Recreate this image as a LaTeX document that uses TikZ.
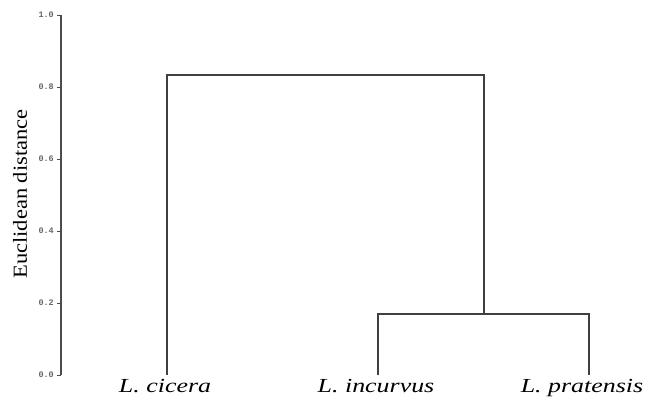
\documentclass[tikz,border=0pt]{standalone}
\usepackage{fontspec}
\setmainfont{Liberation Serif}
\newfontfamily\tickfont{Liberation Mono}
\begin{document}
\begin{tikzpicture}[x=1bp,y=-1bp,
  line/.style={draw=black!75,line width=1.3bp},
  axisline/.style={draw=black!70,line width=2bp},
  ticklab/.style={font=\tickfont\fontsize{8.5}{9}\selectfont\bfseries,text=black!60,anchor=east,inner sep=0pt},
  leaf/.style={font=\fontsize{20}{24}\selectfont\itshape,anchor=base,inner sep=0pt,xscale=1.3}]
\useasboundingbox (0,0) rectangle (646,398);
% axis
\coordinate (a0) at (61,375);
\coordinate (a1) at (61,15);
\draw[axisline] (a0) -- (a1);
\foreach \v/\y in {0.0/375,0.2/303,0.4/231,0.6/159,0.8/87,1.0/15}{
  \draw[draw=black!70,line width=1bp] (57,\y) -- (61,\y);
  \node[ticklab] at (54,\y) {\v};
}
\node[rotate=90,font=\fontsize{20}{24}\selectfont,anchor=center,xscale=1.13] (ylab) at (20,194) {Euclidean distance};
% leaves
\coordinate (l1) at (167,375);
\coordinate (l2) at (378,375);
\coordinate (l3) at (589,375);
\coordinate (m23) at (484,314);
\coordinate (top) at (325,75);
\draw[line] (l2) |- (m23) -| (l3);
\draw[line] (l1) |- (top) -| (m23);
\node[leaf] (n1) at (165,392) {L. cicera};
\node[leaf] (n2) at (376,392) {L. incurvus};
\node[leaf] (n3) at (582,392) {L. pratensis};
\end{tikzpicture}
\end{document}
